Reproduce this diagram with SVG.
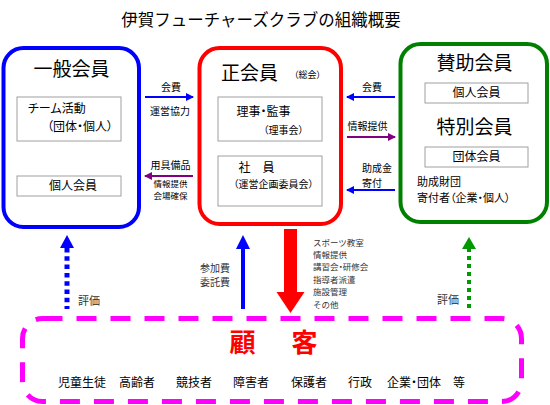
<svg xmlns="http://www.w3.org/2000/svg" width="550" height="405" viewBox="0 0 550 405">
<defs>
<style>
text{font-family:"Noto Sans CJK JP","Liberation Sans",sans-serif;fill:#000;}
.p{font-feature-settings:"palt";}
.t19{font-size:19px;}
.t12{font-size:12px;}
.t11{font-size:11px;}
.t10{font-size:10px;}
.t85{font-size:8.5px;}
.mid{text-anchor:middle;}
.box{fill:#fff;stroke:#a0a0a0;stroke-width:1;}
.big{fill:#fff;stroke-width:4;}
.thin{fill:none;stroke-width:2;}
.gray{fill:#333;}
</style>
<marker id="hb" markerWidth="8" markerHeight="8" refX="7" refY="4" orient="auto" markerUnits="userSpaceOnUse"><path d="M0,0 L8,4 L0,8 Z" fill="#0000ff"/></marker>
<marker id="hp" markerWidth="8" markerHeight="8" refX="7" refY="4" orient="auto" markerUnits="userSpaceOnUse"><path d="M0,0 L8,4 L0,8 Z" fill="#800080"/></marker>
</defs>
<rect width="550" height="405" fill="#fff"/>
<text x="261" y="26" class="mid" style="font-size:16.5px">伊賀フューチャーズクラブの組織概要</text>

<g id="ippan">
<rect x="3.5" y="48" width="135.5" height="179" rx="20" class="big" stroke="#0000ff"/>
<text x="71.5" y="76" class="t19 mid">一般会員</text>
<rect x="17" y="97" width="104" height="44" class="box"/>
<text x="28" y="113" class="t12 p">チーム活動</text>
<text x="80" y="131" class="t12 mid p">（団体・個人）</text>
<rect x="17" y="176" width="104" height="20" class="box"/>
<text x="73" y="190" class="t12 mid">個人会員</text>
</g>

<g id="sei">
<rect x="199.5" y="48" width="141.5" height="176" rx="20" class="big" stroke="#ff0000"/>
<text x="249.5" y="80" class="t19 mid">正会員</text>
<text x="307.5" y="78" class="mid p" style="font-size:9px">（総会）</text>
<rect x="218" y="97" width="104" height="44" class="box"/>
<text x="263.5" y="116" class="t12 mid p">理事・監事</text>
<text x="283.5" y="134" class="t10 mid p">（理事会）</text>
<rect x="218" y="156" width="104" height="50" class="box"/>
<text x="256.5" y="172" class="t12 mid">社　員</text>
<text x="273.5" y="188" class="t10 mid p">（運営企画委員会）</text>
</g>

<g id="sanjo">
<rect x="400.5" y="44" width="146.5" height="178" rx="20" class="big" stroke="#008000"/>
<text x="474.5" y="70" class="t19 mid">賛助会員</text>
<rect x="425" y="83" width="103" height="20" class="box"/>
<text x="476.5" y="97" class="t12 mid">個人会員</text>
<text x="474.5" y="134" class="t19 mid">特別会員</text>
<rect x="425" y="147" width="103" height="20" class="box"/>
<text x="476.5" y="161" class="t12 mid">団体会員</text>
<text x="417" y="186" class="t11">助成財団</text>
<text x="417" y="202" class="t11 p">寄付者（企業・個人）</text>
</g>

<g id="kokyaku">
<rect x="22.5" y="318.5" width="499" height="83" rx="20" fill="none" stroke="#ff00ff" stroke-width="5" stroke-dasharray="20 14"/>
<text x="242.5" y="352" class="mid" style="font-size:26px;font-weight:bold;fill:#ff0000">顧</text>
<text x="304.5" y="352" class="mid" style="font-size:26px;font-weight:bold;fill:#ff0000">客</text>
<text x="58" y="387" class="t12">児童生徒</text>
<text x="119" y="387" class="t12">高齢者</text>
<text x="176" y="387" class="t12">競技者</text>
<text x="233" y="387" class="t12">障害者</text>
<text x="291" y="387" class="t12">保護者</text>
<text x="348" y="387" class="t12">行政</text>
<text x="387" y="387" class="t12 p">企業・団体</text>
<text x="453" y="387" class="t12">等</text>
</g>

<g id="connectors">
<line x1="145" y1="97" x2="193" y2="97" class="thin" stroke="#0000ff" marker-end="url(#hb)"/>
<text x="171" y="91" class="t10 mid">会費</text>
<text x="170" y="115" class="t10 mid">運営協力</text>
<line x1="193" y1="176" x2="145" y2="176" class="thin" stroke="#800080" marker-end="url(#hp)"/>
<text x="170.5" y="168.5" class="t10 mid">用具備品</text>
<text x="170.5" y="187" class="t85 mid">情報提供<tspan x="170.5" dy="12.4">会場確保</tspan></text>

<line x1="395" y1="97" x2="347" y2="97" class="thin" stroke="#0000ff" marker-end="url(#hb)"/>
<text x="372" y="91" class="t10 mid">会費</text>
<line x1="347" y1="137" x2="395" y2="137" class="thin" stroke="#800080" marker-end="url(#hp)"/>
<text x="367.5" y="130" class="t10 mid">情報提供</text>
<line x1="395" y1="190" x2="347" y2="190" class="thin" stroke="#0000ff" marker-end="url(#hb)"/>
<text x="362" y="172" class="t10">助成金<tspan x="362" dy="14.5">寄付</tspan></text>

<line x1="67" y1="248" x2="67" y2="309" stroke="#0000ff" stroke-width="5" stroke-dasharray="4.5 3.8"/>
<polygon points="67,235 74,248 60,248" fill="#0000ff"/>
<text x="78" y="305" style="font-size:11px" class="gray">評価</text>

<line x1="243" y1="246" x2="243" y2="309" stroke="#0000ff" stroke-width="4"/>
<polygon points="243,235 250,249 236,249" fill="#0000ff"/>
<text x="200" y="271.5" class="t10 gray">参加費<tspan x="200" dy="14.5">委託費</tspan></text>

<rect x="284" y="229" width="13" height="64" fill="#ff0000"/>
<polygon points="276.5,292 304.5,292 290.5,313" fill="#ff0000"/>
<text x="313" y="245.5" class="t85 gray">スポーツ教室<tspan x="313" dy="12.4">情報提供</tspan><tspan x="313" dy="12.4" class="p">講習会・研修会</tspan><tspan x="313" dy="12.4">指導者派遣</tspan><tspan x="313" dy="12.4">施設管理</tspan><tspan x="313" dy="12.4">その他</tspan></text>

<line x1="469" y1="248" x2="469" y2="309" stroke="#009900" stroke-width="4" stroke-dasharray="4 4"/>
<polygon points="469,237 476,249 462,249" fill="#009900"/>
<text x="437" y="304" style="font-size:11px" class="gray">評価</text>
</g>
</svg>
